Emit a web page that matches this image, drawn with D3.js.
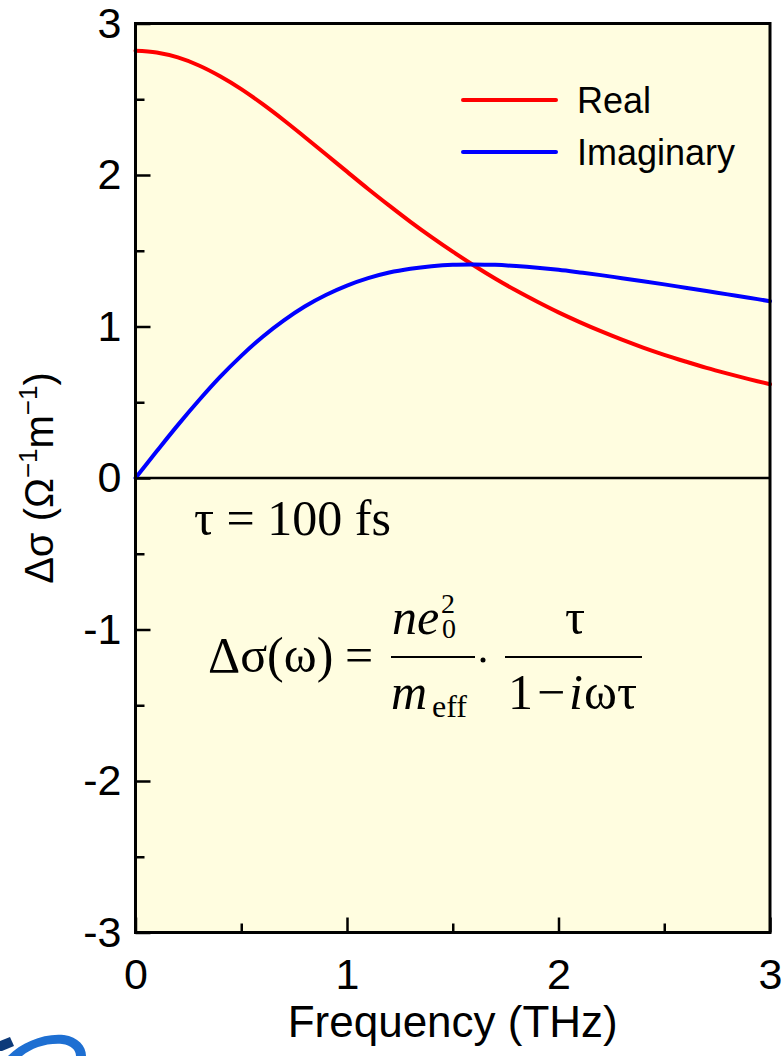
<!DOCTYPE html>
<html>
<head>
<meta charset="utf-8">
<script src="https://cdn.jsdelivr.net/npm/d3@7"></script>
<style>
  html, body { margin: 0; padding: 0; background: #ffffff; }
  svg { display: block; }
  .sans { font-family: "Liberation Sans", Arial, Helvetica, sans-serif; }
  .serif { font-family: "Liberation Serif", "Times New Roman", Times, serif; }
</style>
</head>
<body>
<svg id="chart" width="783" height="1056"></svg>
<script>
// Frequency samples (THz)
const frequency = [0, 0.1, 0.2, 0.3, 0.4, 0.5, 0.6, 0.7, 0.8, 0.9, 1.0,
                   1.1, 1.2, 1.3, 1.4, 1.5, 1.6, 1.7, 1.8, 1.9, 2.0,
                   2.1, 2.2, 2.3, 2.4, 2.5, 2.6, 2.7, 2.8, 2.9, 3.0];
// Real part of the photoconductivity
const realPart = [2.820, 2.809, 2.776, 2.723, 2.652, 2.567, 2.469, 2.363, 2.251, 2.137, 2.022,
                  1.908, 1.798, 1.691, 1.590, 1.494, 1.403, 1.317, 1.237, 1.163, 1.093,
                  1.029, 0.969, 0.913, 0.861, 0.813, 0.769, 0.727, 0.689, 0.653, 0.619];
// Imaginary part of the photoconductivity
const imagPart = [0.000, 0.176, 0.349, 0.513, 0.667, 0.806, 0.931, 1.039, 1.132, 1.208, 1.270,
                  1.319, 1.356, 1.381, 1.398, 1.408, 1.410, 1.407, 1.399, 1.388, 1.374,
                  1.357, 1.339, 1.319, 1.299, 1.278, 1.256, 1.234, 1.212, 1.190, 1.167];
const seriesNames = ["Real", "Imaginary"];
const seriesColors = ["#ff0000", "#0000ff"];
const xTicks = [0, 1, 2, 3];
const xMinorTicks = [0.5, 1.5, 2.5];
const yTicks = [3, 2, 1, 0, -1, -2, -3];
const yMinorTicks = [2.5, 1.5, 0.5, -0.5, -1.5, -2.5];

const svg = d3.select("#chart");
const plot = { left: 135.5, right: 770, top: 23.5, bottom: 932.5 };

const x = d3.scaleLinear().domain([0, 3]).range([plot.left, plot.right]);
const y = d3.scaleLinear().domain([-3, 3]).range([plot.bottom, plot.top]);

// plot background
svg.append("rect")
  .attr("x", plot.left).attr("y", plot.top)
  .attr("width", plot.right - plot.left).attr("height", plot.bottom - plot.top)
  .attr("fill", "#fffde0");

// zero line
svg.append("line")
  .attr("x1", x(0)).attr("x2", x(3)).attr("y1", y(0)).attr("y2", y(0))
  .attr("stroke", "#000").attr("stroke-width", 2.5);

// curves
const series = [realPart, imagPart];
const line = d3.line()
  .x((d, i) => x(frequency[i]))
  .y(d => y(d))
  .curve(d3.curveCatmullRom.alpha(0.5));
series.forEach((vals, k) => {
  svg.append("path")
    .datum(vals)
    .attr("d", line)
    .attr("fill", "none")
    .attr("stroke", seriesColors[k])
    .attr("stroke-width", 4)
    .attr("stroke-linecap", "round");
});

// axes with inward ticks
const fmt = d => String(d);
const yAxis = svg.append("g")
  .attr("transform", `translate(${plot.left},0)`)
  .call(d3.axisLeft(y).tickValues(yTicks).tickFormat(fmt)
    .tickSizeInner(-15).tickSizeOuter(0).tickPadding(14));
const yMinor = svg.append("g")
  .attr("transform", `translate(${plot.left},0)`)
  .call(d3.axisLeft(y).tickValues(yMinorTicks).tickFormat("")
    .tickSizeInner(-9).tickSizeOuter(0));
const xAxis = svg.append("g")
  .attr("transform", `translate(0,${plot.bottom})`)
  .call(d3.axisBottom(x).tickValues(xTicks).tickFormat(fmt)
    .tickSizeInner(-15).tickSizeOuter(0).tickPadding(26));
const xMinor = svg.append("g")
  .attr("transform", `translate(0,${plot.bottom})`)
  .call(d3.axisBottom(x).tickValues(xMinorTicks).tickFormat("")
    .tickSizeInner(-9).tickSizeOuter(0));

[yAxis, yMinor, xAxis, xMinor].forEach(g => {
  g.select(".domain").remove();
  g.selectAll(".tick line").attr("stroke", "#000").attr("stroke-width", 2.5);
  g.selectAll(".tick text")
    .attr("class", "sans")
    .attr("font-size", 43)
    .attr("fill", "#000");
});

// frame
svg.append("rect")
  .attr("x", plot.left).attr("y", plot.top)
  .attr("width", plot.right - plot.left).attr("height", plot.bottom - plot.top)
  .attr("fill", "none").attr("stroke", "#000").attr("stroke-width", 3);

// axis titles
svg.append("text")
  .attr("class", "sans")
  .attr("x", (plot.left + plot.right) / 2).attr("y", 1037)
  .attr("text-anchor", "middle").attr("font-size", 44)
  .text("Frequency (THz)");

const yTitle = svg.append("text")
  .attr("class", "sans")
  .attr("transform", `translate(53,${(plot.top + plot.bottom) / 2}) rotate(-90)`)
  .attr("text-anchor", "middle").attr("font-size", 40);
yTitle.append("tspan").text("Δσ (Ω");
yTitle.append("tspan").attr("font-size", 26).attr("dy", -16).text("−1");
yTitle.append("tspan").attr("dy", 16).text("m");
yTitle.append("tspan").attr("font-size", 26).attr("dy", -16).text("−1");
yTitle.append("tspan").attr("dy", 16).text(")");

// legend
const legendRows = [100, 152];
seriesNames.forEach((name, k) => {
  svg.append("line")
    .attr("x1", 463).attr("x2", 556)
    .attr("y1", legendRows[k]).attr("y2", legendRows[k])
    .attr("stroke", seriesColors[k]).attr("stroke-width", 4)
    .attr("stroke-linecap", "round");
  svg.append("text")
    .attr("class", "sans")
    .attr("x", 577).attr("y", legendRows[k] + 13)
    .attr("font-size", 36)
    .text(name);
});

// relaxation time note
svg.append("text")
  .attr("class", "serif")
  .attr("x", 194).attr("y", 535)
  .attr("font-size", 50)
  .text("τ = 100 fs");

// Drude formula
const fs = 50;
const serifText = (tx, ty, size, str, italic) => svg.append("text")
  .attr("class", "serif")
  .attr("x", tx).attr("y", ty).attr("font-size", size)
  .attr("font-style", italic ? "italic" : "normal")
  .text(str);

serifText(208, 672, fs, "Δσ(ω)");
serifText(345, 672, fs, "=");

// first fraction: n e0^2 / m_eff
serifText(392, 634, fs, "ne", true);
serifText(442, 638, 28, "0");
serifText(441, 613, 28, "2");
svg.append("line")
  .attr("x1", 391).attr("x2", 475).attr("y1", 657).attr("y2", 657)
  .attr("stroke", "#000").attr("stroke-width", 2);
serifText(391, 709, fs, "m", true);
serifText(432, 717, 32, "eff");

// multiplication dot
svg.append("circle").attr("cx", 483).attr("cy", 660).attr("r", 2.5).attr("fill", "#000");

// second fraction: tau / (1 - i omega tau)
serifText(575, 634, fs, "τ").attr("text-anchor", "middle");
svg.append("line")
  .attr("x1", 505).attr("x2", 642).attr("y1", 657).attr("y2", 657)
  .attr("stroke", "#000").attr("stroke-width", 2);
serifText(508, 709, fs, "1");
serifText(537, 709, fs, "−");
serifText(569, 709, fs, "i", true);
serifText(584, 709, fs, "ωτ");

// logo fragment at the lower left corner
svg.append("path")
  .attr("d", "M8,1056 C22,1042 44,1033 64,1035 C78,1037 86,1046 86,1056 L76,1056 C76,1050 71,1045 62,1044 C46,1043 32,1048 22,1056 Z")
  .attr("fill", "#1e6fd2");
svg.append("path")
  .attr("d", "M0,1041 L10,1037 L14,1046 L2,1051 L0,1051 Z")
  .attr("fill", "#0d3a7a");
</script>
</body>
</html>
